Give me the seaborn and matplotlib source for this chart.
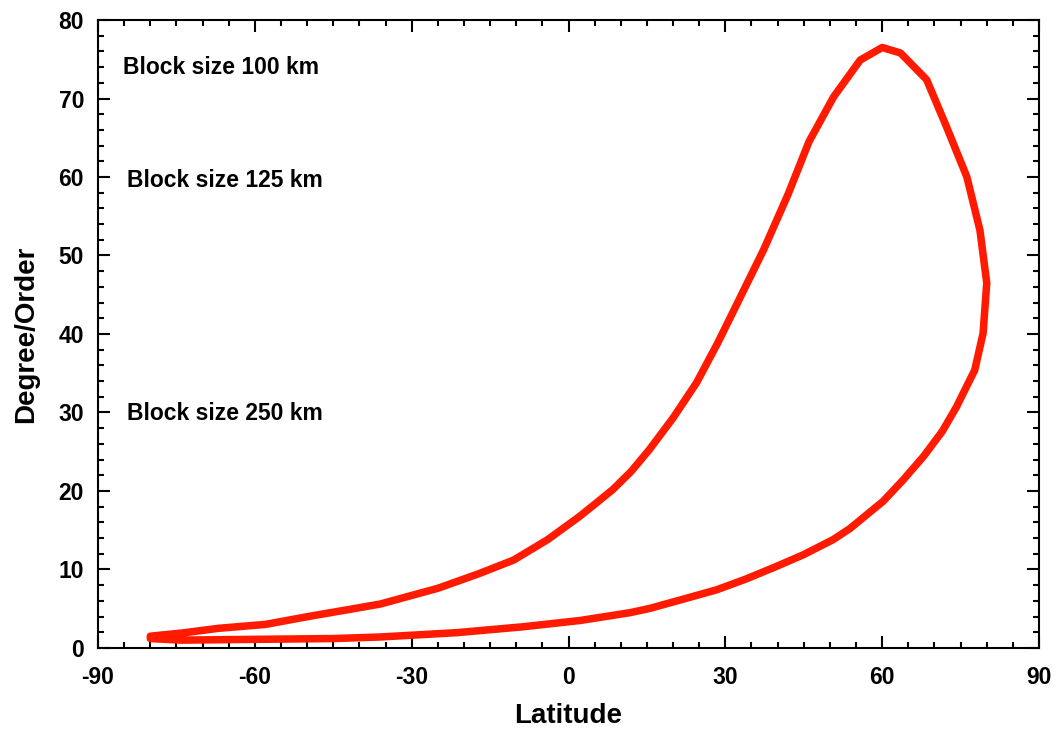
import matplotlib
matplotlib.use("Agg")
import matplotlib.pyplot as plt
from matplotlib.ticker import MultipleLocator
import seaborn as sns
import pandas as pd

# Closed loop, traced in drawing order (upper branch -> peak -> right side -> lower branch)
latitude = [-80, -74, -67, -58, -49, -42, -36, -25, -17, -10.5, -4, 2, 5, 8.5, 12, 15.5,
            20, 24.5, 28.5, 32.5, 37.3, 42, 46, 50.7, 55.8, 60, 63.5, 68.5, 72.3, 76.2,
            78.7, 80, 79.3, 77.7, 74.2, 71.5, 67.9, 64, 60.2, 53.8, 50.6, 45, 39.8,
            34, 28.3, 21.3, 15.6, 11.8, 2.2, -8.7, -21.4, -36, -45, -60, -74, -80]
degree = [1.5, 1.9, 2.5, 3.0, 4.1, 4.9, 5.6, 7.6, 9.5, 11.2, 13.8, 16.7, 18.3, 20.2, 22.5, 25.3,
          29.3, 33.8, 38.8, 44.2, 50.7, 57.8, 64.5, 70.2, 74.9, 76.5, 75.8, 72.4, 66.4, 60.0,
          53.2, 46.5, 40.1, 35.4, 30.7, 27.6, 24.4, 21.4, 18.7, 15.2, 13.8, 11.9, 10.4,
          8.8, 7.4, 6.1, 5.05, 4.5, 3.5, 2.7, 1.95, 1.4, 1.2, 1.1, 1.0, 1.2]

annotations = ["Block size 100 km", "Block size 125 km", "Block size 250 km"]
annot_x = [-85.2, -84.5, -84.5]
annot_y = [74.0, 59.6, 29.9]

x_ticks = [-90, -60, -30, 0, 30, 60, 90]
y_ticks = [0, 10, 20, 30, 40, 50, 60, 70, 80]

sns.set_theme(style="ticks")
plt.rcParams['font.family'] = ['Liberation Sans', 'DejaVu Sans']
plt.rcParams['font.weight'] = 'bold'
plt.rcParams['axes.unicode_minus'] = False

df = pd.DataFrame({"Latitude": latitude, "Degree/Order": degree})

fig = plt.figure(figsize=(10.57, 7.33), dpi=100)
ax = fig.add_axes([0.0927, 0.116, 0.8903, 0.8567])

sns.lineplot(data=df, x="Latitude", y="Degree/Order", sort=False, estimator=None,
             color="#ff1a00", linewidth=5.4, ax=ax)

ax.set_xlim(-90, 90)
ax.set_ylim(0, 80)
ax.set_xticks(x_ticks)
ax.set_yticks(y_ticks)
ax.xaxis.set_minor_locator(MultipleLocator(5))
ax.yaxis.set_minor_locator(MultipleLocator(2))
ax.tick_params(which="both", direction="in", top=True, right=True, width=1.5,
               color="black", labelsize=16.5, labelcolor="black")
ax.tick_params(which="major", length=8.6)
ax.tick_params(which="minor", length=4.5)
ax.tick_params(axis="x", which="major", pad=13)
ax.tick_params(axis="y", which="major", pad=10)
for lab in ax.get_xticklabels() + ax.get_yticklabels():
    lab.set_fontweight("bold")

for s in ax.spines.values():
    s.set_linewidth(1.5)
    s.set_color("black")
    s.set_visible(True)

ax.set_xlabel("Latitude", fontsize=20, fontweight="bold", labelpad=10, color="black")
ax.set_ylabel("Degree/Order", fontsize=20, fontweight="bold", labelpad=14, color="black")

for t, xx, yy in zip(annotations, annot_x, annot_y):
    ax.text(xx, yy, t, fontsize=16.5, fontweight="bold", ha="left", va="center", color="black")

fig.savefig("out.png", dpi=100)
